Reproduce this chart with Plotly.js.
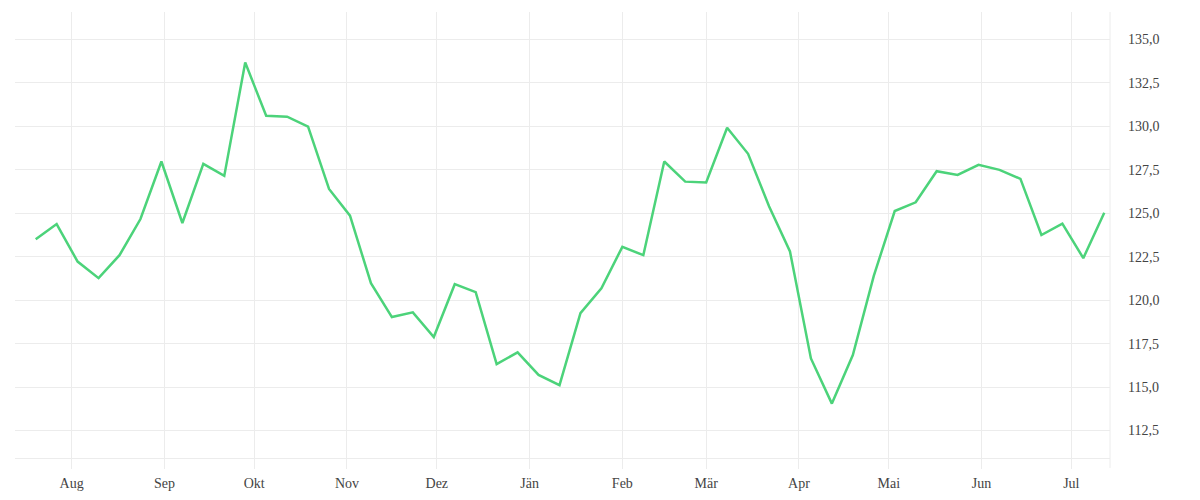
<!DOCTYPE html>
<html>
<head>
<meta charset="utf-8">
<script src="https://cdn.plot.ly/plotly-3.0.1.min.js"></script>
<style>
  html, body { margin: 0; padding: 0; background: #fff; }
  #chart { width: 1200px; height: 500px; }
</style>
</head>
<body>
<div id="chart"></div>
<script>
// weekly values, Jul 2022 - Jul 2023
const dates = [
  "2022-07-20", "2022-07-27", "2022-08-03", "2022-08-10", "2022-08-17", "2022-08-24",
  "2022-08-31", "2022-09-07", "2022-09-14", "2022-09-21", "2022-09-28", "2022-10-05",
  "2022-10-12", "2022-10-19", "2022-10-26", "2022-11-02", "2022-11-09", "2022-11-16",
  "2022-11-23", "2022-11-30", "2022-12-07", "2022-12-14", "2022-12-21", "2022-12-28",
  "2023-01-04", "2023-01-11", "2023-01-18", "2023-01-25", "2023-02-01", "2023-02-08",
  "2023-02-15", "2023-02-22", "2023-03-01", "2023-03-08", "2023-03-15", "2023-03-22",
  "2023-03-29", "2023-04-05", "2023-04-12", "2023-04-19", "2023-04-26", "2023-05-03",
  "2023-05-10", "2023-05-17", "2023-05-24", "2023-05-31", "2023-06-07", "2023-06-14",
  "2023-06-21", "2023-06-28", "2023-07-05", "2023-07-12"
];

const values = [
  123.5, 124.38, 122.22, 121.27, 122.59, 124.67, 127.98, 124.44, 127.84, 127.15,
  133.67, 130.61, 130.56, 129.98, 126.4, 124.86, 120.98, 119.03, 119.3, 117.88,
  120.92, 120.46, 116.32, 117.0, 115.7, 115.11, 119.25, 120.69, 123.07, 122.59,
  127.98, 126.82, 126.77, 129.92, 128.42, 125.4, 122.8, 116.65, 114.05, 116.84,
  121.4, 125.13, 125.63, 127.42, 127.21, 127.79, 127.5, 126.98, 123.75, 124.4,
  122.42, 125.03
];

const monthTicks = [
  "2022-08-01", "2022-09-01", "2022-10-01", "2022-11-01", "2022-12-01", "2023-01-01",
  "2023-02-01", "2023-03-01", "2023-04-01", "2023-05-01", "2023-06-01", "2023-07-01"
];
const monthLabels = ["Aug", "Sep", "Okt", "Nov", "Dez", "Jän", "Feb", "Mär", "Apr", "Mai", "Jun", "Jul"];

const gridColor = "#ececec";

const data = [{
  x: dates,
  y: values,
  type: "scatter",
  mode: "lines",
  line: { color: "#4cd37a", width: 2.5 },
  hoverinfo: "x+y"
}];

const layout = {
  width: 1200,
  height: 500,
  margin: { l: 15, r: 90, t: 12, b: 42 },
  paper_bgcolor: "#fff",
  plot_bgcolor: "#fff",
  separators: ",.",
  showlegend: false,
  font: { family: "Liberation Serif, serif", size: 14, color: "#444" },
  xaxis: {
    type: "date",
    range: ["2022-07-13 02:00", "2023-07-13 22:00"],
    tickvals: monthTicks,
    ticktext: monthLabels,
    showgrid: true,
    gridcolor: gridColor,
    gridwidth: 1,
    showline: true,
    linecolor: gridColor,
    linewidth: 1,
    ticks: "outside",
    ticklen: 10,
    tickcolor: gridColor,
    ticklabelstandoff: 2,
    zeroline: false
  },
  yaxis: {
    side: "right",
    range: [110.92, 136.58],
    tick0: 0,
    dtick: 2.5,
    tickformat: ".1f",
    showgrid: true,
    gridcolor: gridColor,
    gridwidth: 1,
    zeroline: false,
    showline: false,
    ticks: "",
    ticklabelstandoff: 17
  },
  shapes: [{
    type: "line",
    xref: "paper", yref: "paper",
    x0: 1, x1: 1, y0: -0.0224, y1: 1,
    line: { color: gridColor, width: 1 }
  }]
};

Plotly.newPlot("chart", data, layout, { displayModeBar: false, staticPlot: true });
</script>
</body>
</html>
